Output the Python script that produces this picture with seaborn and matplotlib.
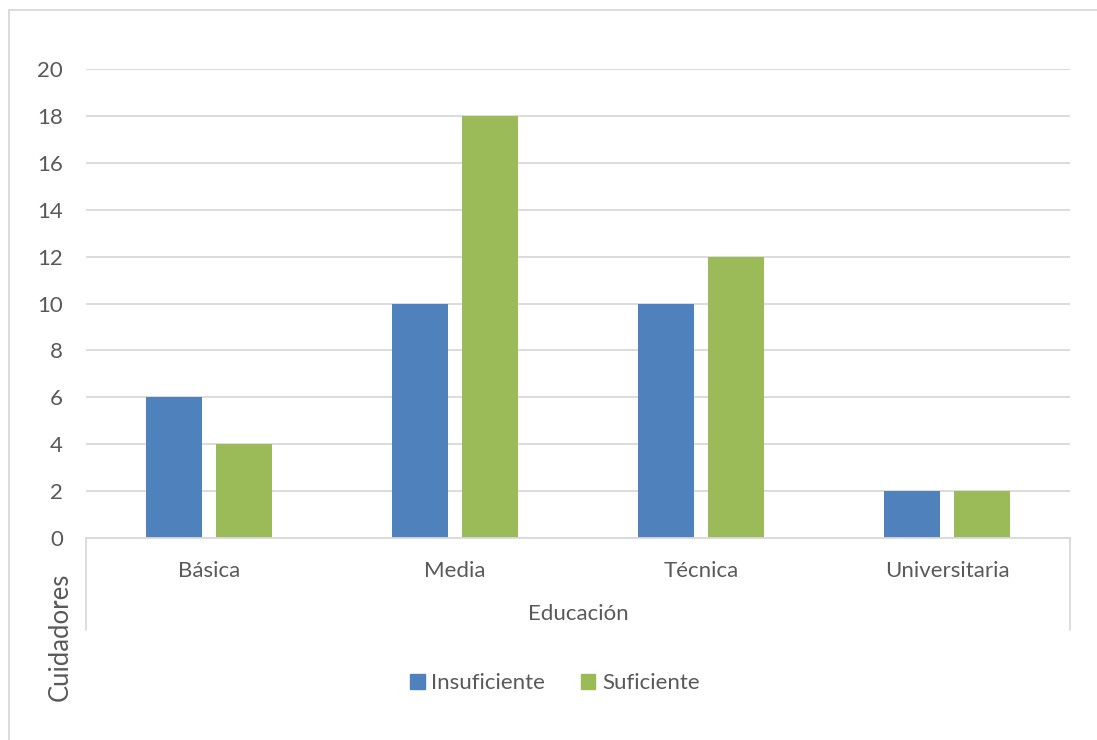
import matplotlib
matplotlib.use("Agg")
import matplotlib.pyplot as plt
from matplotlib.patches import Rectangle
import seaborn as sns
import pandas as pd

categories = ["Básica", "Media", "Técnica", "Universitaria"]
insuficiente = [6, 10, 10, 2]
suficiente = [4, 18, 12, 2]
series_names = ["Insuficiente", "Suficiente"]
y_ticks = [0, 2, 4, 6, 8, 10, 12, 14, 16, 18, 20]

df = pd.DataFrame({
    "Educación": categories * 2,
    "Cuidadores": insuficiente + suficiente,
    "Serie": [series_names[0]] * len(categories) + [series_names[1]] * len(categories),
})

sns.set_theme(style="white")
plt.rcParams["font.family"] = ["Lato", "DejaVu Sans"]

W, H = 1097, 740
fig = plt.figure(figsize=(W / 100, H / 100), dpi=100)
fig.patch.set_facecolor("white")

# outer chart frame
fig.patches.append(Rectangle((9 / W, -0.05), 1.2, 1 - 10 / H + 0.05,
                             transform=fig.transFigure, fill=False,
                             edgecolor="#d9d9d9", linewidth=1.3))

left, right = 86 / W, 1070 / W
bottom, top = 1 - 538 / H, 1 - 69 / H
ax = fig.add_axes([left, bottom, right - left, top - bottom])

palette = {"Insuficiente": "#4f81bd", "Suficiente": "#9bbb59"}
sns.barplot(data=df, x="Educación", y="Cuidadores", hue="Serie",
            palette=palette, width=0.57, gap=0.21, ax=ax,
            legend=False, saturation=1, linewidth=0)

ax.set_xlim(-0.5, 3.5)
ax.set_ylim(0, 20)
ax.set_yticks(y_ticks)
ax.set_yticklabels([str(t) for t in y_ticks])
ax.yaxis.grid(True, color="#d9d9d9", linewidth=1.3)
ax.set_axisbelow(True)
for s in ["top", "right", "left"]:
    ax.spines[s].set_visible(False)
ax.spines["bottom"].set_color("#d9d9d9")
ax.spines["bottom"].set_linewidth(1.3)
ax.tick_params(axis="y", length=0, pad=16.5, labelsize=16, labelcolor="#595959")
ax.tick_params(axis="x", length=0, pad=16.5, labelsize=16, labelcolor="#595959")
ax.set_xlabel("")
ax.set_ylabel("")

# multi-level category axis separators
depth = -(630 - 538) / 469
for xv in (0, 1):
    ax.plot([xv, xv], [0, depth], transform=ax.transAxes, color="#d9d9d9",
            linewidth=1.3, clip_on=False)

fig.text(578 / W, 1 - 614 / H, "Educación", ha="center", va="center",
         fontsize=16, color="#595959")
fig.text(60 / W, 1 - 637 / H, "Cuidadores", ha="center", va="center",
         rotation=90, fontsize=18.5, color="#595959")

# legend
handles = [Rectangle((0, 0), 1, 1, color=palette[n]) for n in series_names]
fig.legend(handles, series_names, loc="center", bbox_to_anchor=(555 / W, 1 - 683 / H),
           ncol=2, frameon=False, fontsize=16, labelcolor="#595959",
           handlelength=0.65, handleheight=0.65, handletextpad=0.3, columnspacing=1.6)

fig.savefig("out.png", dpi=100, facecolor="white")
